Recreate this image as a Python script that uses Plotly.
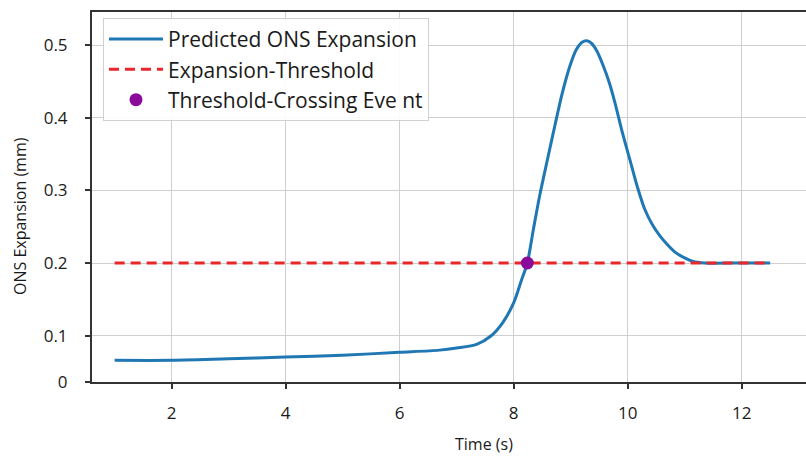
import plotly.graph_objects as go

# ---- data ----
time_s = [1.0, 2.0, 3.0, 4.0, 5.0, 6.0, 6.7, 7.0, 7.35, 7.6, 7.8, 8.0, 8.14, 8.24,
          8.35, 8.46, 8.6, 8.72, 8.85, 8.99, 9.1, 9.2, 9.28, 9.36, 9.46, 9.57, 9.68,
          9.78, 9.9, 10.04, 10.17, 10.3, 10.44, 10.57, 10.7, 10.83, 11.0, 11.15, 11.35,
          12.0, 12.5]
ons_mm = [0.066, 0.066, 0.068, 0.0705, 0.073, 0.077, 0.080, 0.083, 0.088, 0.0995, 0.117,
          0.145, 0.177, 0.200, 0.248, 0.294, 0.345, 0.388, 0.433, 0.472, 0.494, 0.504,
          0.506, 0.503, 0.492, 0.472, 0.448, 0.420, 0.382, 0.342, 0.305, 0.274, 0.252,
          0.237, 0.225, 0.215, 0.207, 0.202, 0.200, 0.200, 0.200]
threshold_x = [1.0, 12.5]
threshold_y = [0.2, 0.2]
event_x = [8.24]
event_y = [0.2]

x_tickvals = [2, 4, 6, 8, 10, 12]
y_tickvals = [0.0361, 0.1, 0.2, 0.3, 0.4, 0.5]
y_ticktext = ["0", "0.1", "0.2", "0.3", "0.4", "0.5"]

TICK_FONT = dict(family="Open Sans", size=17, color="#1a1a1a")

fig = go.Figure()
fig.add_trace(go.Scatter(
    x=time_s, y=ons_mm, mode="lines", name="Predicted ONS Expansion",
    line=dict(color="#1f77b4", width=3, shape="spline", smoothing=0.8)))
fig.add_trace(go.Scatter(
    x=threshold_x, y=threshold_y, mode="lines", name="Expansion-Threshold",
    line=dict(color="#e8262b", width=3, dash="10px,6px")))
fig.add_trace(go.Scatter(
    x=event_x, y=event_y, mode="markers", name="Threshold-Crossing Eve nt",
    marker=dict(color="#8a0a9a", size=13, line=dict(width=0))))

fig.update_layout(
    width=806, height=456,
    margin=dict(l=92, r=0, t=12, b=74),
    paper_bgcolor="white", plot_bgcolor="white",
    showlegend=True,
    legend=dict(
        x=0.0154, y=0.984, xanchor="left", yanchor="top",
        bgcolor="rgba(255,255,255,0.9)", bordercolor="#d0d0d0", borderwidth=1,
        font=dict(family="Open Sans", size=21, color="#1a1a1a"),
        traceorder="normal", itemwidth=54),
    xaxis=dict(
        range=[0.603, 13.129], tickvals=x_tickvals, tickfont=TICK_FONT,
        showgrid=True, gridcolor="#cfcfcf", gridwidth=1, zeroline=False,
        showline=True, linecolor="#333333", linewidth=2, mirror=True,
        ticks="outside", ticklen=5, tickwidth=1.5, tickcolor="#333333",
        ticklabelstandoff=10),
    yaxis=dict(
        range=[0.0361, 0.5457], tickvals=y_tickvals, ticktext=y_ticktext, tickfont=TICK_FONT,
        showgrid=True, gridcolor="#cfcfcf", gridwidth=1, zeroline=False,
        showline=True, linecolor="#333333", linewidth=2,
        ticks="outside", ticklen=5, tickwidth=1.5, tickcolor="#333333",
        ticklabelstandoff=14),
    annotations=[
        dict(text="ONS Expansion (mm)", xref="paper", yref="paper", x=-0.1008, y=0.4486,
             xanchor="center", yanchor="middle", textangle=-90, showarrow=False,
             font=dict(family="Open Sans", size=16, color="#1a1a1a")),
        dict(text="Time (s)", xref="paper", yref="paper", x=0.549, y=-0.168,
             xanchor="center", yanchor="middle", showarrow=False,
             font=dict(family="Open Sans", size=16, color="#1a1a1a")),
    ],
)

fig.write_html("out.html")
